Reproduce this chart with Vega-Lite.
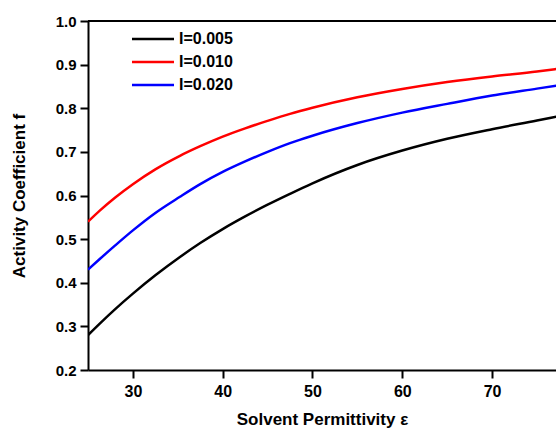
{
  "$schema": "https://vega.github.io/schema/vega-lite/v6.json",
  "width": 468,
  "height": 349,
  "autosize": "none",
  "padding": {"left": 88, "top": 21, "right": 0, "bottom": 58},
  "background": "white",
  "config": {
    "view": {"stroke": null},
    "font": "Liberation Sans"
  },
  "data": {
    "values": [
      {"eps": 25, "f": 0.28, "series": "I=0.005"},
      {"eps": 26.34, "f": 0.307, "series": "I=0.005"},
      {"eps": 28, "f": 0.339, "series": "I=0.005"},
      {"eps": 30, "f": 0.375, "series": "I=0.005"},
      {"eps": 32.5, "f": 0.417, "series": "I=0.005"},
      {"eps": 35.24, "f": 0.459, "series": "I=0.005"},
      {"eps": 37.5, "f": 0.491, "series": "I=0.005"},
      {"eps": 40, "f": 0.523, "series": "I=0.005"},
      {"eps": 42.5, "f": 0.552, "series": "I=0.005"},
      {"eps": 45, "f": 0.579, "series": "I=0.005"},
      {"eps": 47.5, "f": 0.604, "series": "I=0.005"},
      {"eps": 50, "f": 0.628, "series": "I=0.005"},
      {"eps": 55, "f": 0.67, "series": "I=0.005"},
      {"eps": 60, "f": 0.703, "series": "I=0.005"},
      {"eps": 65, "f": 0.73, "series": "I=0.005"},
      {"eps": 70, "f": 0.752, "series": "I=0.005"},
      {"eps": 75, "f": 0.772, "series": "I=0.005"},
      {"eps": 77.2, "f": 0.781, "series": "I=0.005"},
      {"eps": 25, "f": 0.54, "series": "I=0.010"},
      {"eps": 26.34, "f": 0.566, "series": "I=0.010"},
      {"eps": 28, "f": 0.595, "series": "I=0.010"},
      {"eps": 30, "f": 0.626, "series": "I=0.010"},
      {"eps": 32.5, "f": 0.66, "series": "I=0.010"},
      {"eps": 35.24, "f": 0.691, "series": "I=0.010"},
      {"eps": 37.5, "f": 0.713, "series": "I=0.010"},
      {"eps": 40, "f": 0.735, "series": "I=0.010"},
      {"eps": 42.5, "f": 0.754, "series": "I=0.010"},
      {"eps": 45, "f": 0.771, "series": "I=0.010"},
      {"eps": 47.5, "f": 0.787, "series": "I=0.010"},
      {"eps": 50, "f": 0.801, "series": "I=0.010"},
      {"eps": 55, "f": 0.825, "series": "I=0.010"},
      {"eps": 60, "f": 0.844, "series": "I=0.010"},
      {"eps": 65, "f": 0.86, "series": "I=0.010"},
      {"eps": 70, "f": 0.873, "series": "I=0.010"},
      {"eps": 75, "f": 0.884, "series": "I=0.010"},
      {"eps": 77.2, "f": 0.89, "series": "I=0.010"},
      {"eps": 25, "f": 0.43, "series": "I=0.020"},
      {"eps": 26.34, "f": 0.455, "series": "I=0.020"},
      {"eps": 28, "f": 0.485, "series": "I=0.020"},
      {"eps": 30, "f": 0.52, "series": "I=0.020"},
      {"eps": 32.5, "f": 0.56, "series": "I=0.020"},
      {"eps": 35.24, "f": 0.597, "series": "I=0.020"},
      {"eps": 37.5, "f": 0.626, "series": "I=0.020"},
      {"eps": 40, "f": 0.654, "series": "I=0.020"},
      {"eps": 42.5, "f": 0.678, "series": "I=0.020"},
      {"eps": 45, "f": 0.7, "series": "I=0.020"},
      {"eps": 47.5, "f": 0.72, "series": "I=0.020"},
      {"eps": 50, "f": 0.737, "series": "I=0.020"},
      {"eps": 55, "f": 0.766, "series": "I=0.020"},
      {"eps": 60, "f": 0.79, "series": "I=0.020"},
      {"eps": 65, "f": 0.81, "series": "I=0.020"},
      {"eps": 70, "f": 0.829, "series": "I=0.020"},
      {"eps": 75, "f": 0.845, "series": "I=0.020"},
      {"eps": 77.2, "f": 0.852, "series": "I=0.020"}
    ]
  },
  "layer": [
    {
      "mark": {"type": "rule", "color": "black", "strokeWidth": 2},
      "encoding": {"y": {"datum": 1}}
    },
    {
      "mark": {"type": "line", "strokeWidth": 2.5, "clip": true, "interpolate": "monotone"},
      "encoding": {
        "x": {
          "field": "eps", "type": "quantitative",
          "scale": {"domain": [25, 77.12], "nice": false, "zero": false},
          "axis": {
            "title": "Solvent Permittivity ε",
            "values": [30, 40, 50, 60, 70],
            "grid": false,
            "domainColor": "black", "domainWidth": 2,
            "tickColor": "black", "tickWidth": 2, "tickSize": 8,
            "labelFont": "Liberation Sans", "labelFontWeight": "bold", "labelFontSize": 16,
            "labelColor": "black", "labelPadding": 5,
            "titleFont": "Liberation Sans", "titleFontWeight": "bold", "titleFontSize": 17,
            "titleColor": "black", "titlePadding": 12
          }
        },
        "y": {
          "field": "f", "type": "quantitative",
          "scale": {"domain": [0.2, 1.0], "nice": false, "zero": false},
          "axis": {
            "title": "Activity Coefficient f",
            "values": [0.2, 0.3, 0.4, 0.5, 0.6, 0.7, 0.8, 0.9, 1.0],
            "format": ".1f",
            "grid": false,
            "domainColor": "black", "domainWidth": 2,
            "tickColor": "black", "tickWidth": 2, "tickSize": 8,
            "labelFont": "Liberation Sans", "labelFontWeight": "bold", "labelFontSize": 15,
            "labelColor": "black", "labelPadding": 4,
            "titleFont": "Liberation Sans", "titleFontWeight": "bold", "titleFontSize": 17,
            "titleColor": "black", "titlePadding": 27
          }
        },
        "color": {
          "field": "series", "type": "nominal",
          "scale": {"domain": ["I=0.005", "I=0.010", "I=0.020"], "range": ["#000000", "#ff0000", "#0000ff"]},
          "legend": {
            "title": null,
            "orient": "none",
            "legendX": 57,
            "legendY": 10,
            "symbolType": "M-5,0H5",
            "symbolSize": 70.6,
            "symbolStrokeWidth": 2.5,
            "symbolFillColor": "transparent",
            "labelFont": "Liberation Sans",
            "labelFontWeight": "bold",
            "labelFontSize": 16,
            "labelColor": "black",
            "labelOffset": 18,
            "rowPadding": 7,
            "padding": 0
          }
        }
      }
    }
  ]
}
